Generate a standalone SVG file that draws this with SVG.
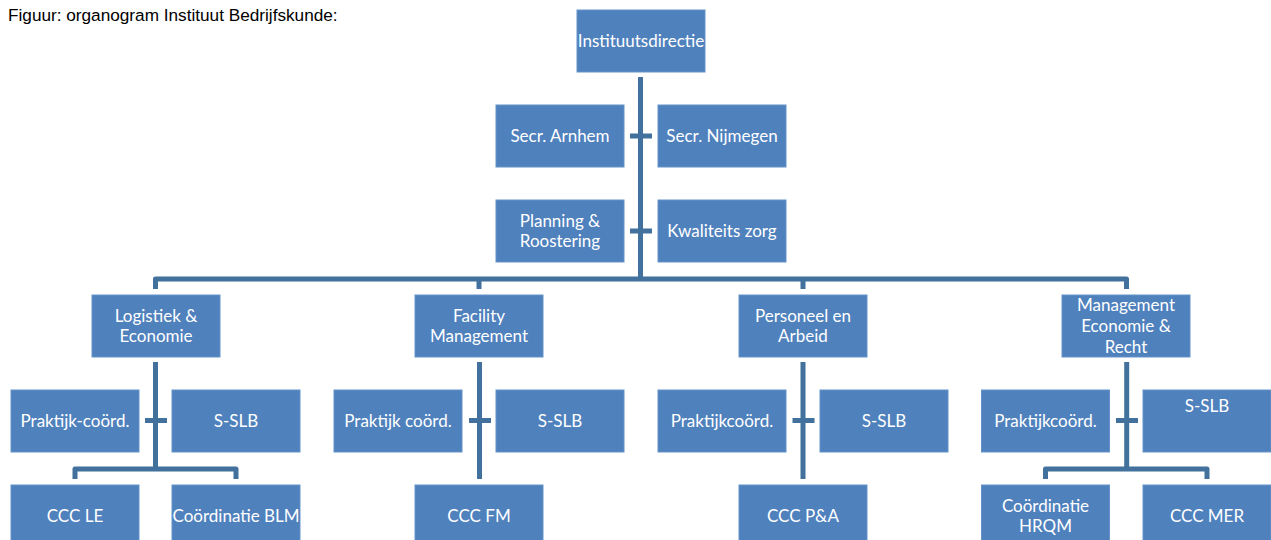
<svg xmlns="http://www.w3.org/2000/svg" width="1271" height="540" viewBox="0 0 1271 540">
<style>
.box{fill:#4F81BD;stroke:#6593C9;stroke-width:1}
.t{font-family:Lato,"Open Sans","Liberation Sans",sans-serif;font-size:17px;fill:#FFFFFF;text-anchor:middle}
.title{font-family:"Liberation Sans",Arial,sans-serif;font-size:17.2px;fill:#000000}
.c{fill:none;stroke:#41719C;stroke-width:5;stroke-linejoin:round}
</style>
<rect width="1271" height="540" fill="#FFFFFF"/>
<text class="title" x="8" y="21">Figuur: organogram Instituut Bedrijfskunde:</text>
<g id="connectors">
<path class="c" d="M640.5 77 V279"/>
<path class="c" d="M630 136 H652"/>
<path class="c" d="M630 231 H652"/>
<path class="c" d="M155.5 289 V279 H1126.5 V289"/>
<path class="c" d="M479 279 V289"/>
<path class="c" d="M803 279 V289"/>
<path class="c" d="M155.5 362 V469"/>
<path class="c" d="M145 420.5 H167"/>
<path class="c" d="M75 479 V469 H236 V479"/>
<path class="c" d="M479.5 362 V479"/>
<path class="c" d="M469 420.5 H491"/>
<path class="c" d="M803 362 V479"/>
<path class="c" d="M792.5 420.5 H814.5"/>
<path class="c" d="M1126.7 362 V469"/>
<path class="c" d="M1116 420.5 H1138"/>
<path class="c" d="M1045.5 479 V469 H1207 V479"/>
</g>
<g id="n-instituutsdirectie"><rect class="box" x="577" y="10" width="128" height="62"/><text class="t" x="641" y="47">Instituutsdirectie</text></g>
<g id="n-secr-arnhem"><rect class="box" x="496" y="105" width="128" height="62"/><text class="t" x="560" y="142">Secr. Arnhem</text></g>
<g id="n-secr-nijmegen"><rect class="box" x="658" y="105" width="128" height="62"/><text class="t" x="722" y="142">Secr. Nijmegen</text></g>
<g id="n-planning"><rect class="box" x="496" y="200" width="128" height="62"/><text class="t" x="560" y="226.7">Planning &amp;</text><text class="t" x="560" y="247.3">Roostering</text></g>
<g id="n-kwaliteit"><rect class="box" x="658" y="200" width="128" height="62"/><text class="t" x="722" y="237">Kwaliteits zorg</text></g>
<g id="n-le"><rect class="box" x="92" y="295" width="128" height="62"/><text class="t" x="156" y="321.7">Logistiek &amp;</text><text class="t" x="156" y="342.3">Economie</text></g>
<g id="n-fm"><rect class="box" x="415" y="295" width="128" height="62"/><text class="t" x="479" y="321.7">Facility</text><text class="t" x="479" y="342.3">Management</text></g>
<g id="n-pa"><rect class="box" x="739" y="295" width="128" height="62"/><text class="t" x="803" y="321.7">Personeel en</text><text class="t" x="803" y="342.3">Arbeid</text></g>
<g id="n-mer"><rect class="box" x="1062" y="295" width="128" height="62"/><text class="t" x="1126" y="311.4">Management</text><text class="t" x="1126" y="332">Economie &amp;</text><text class="t" x="1126" y="352.6">Recht</text></g>
<g id="n-le-prak"><rect class="box" x="11" y="390" width="128" height="62"/><text class="t" x="75" y="427">Praktijk-coörd.</text></g>
<g id="n-le-sslb"><rect class="box" x="172" y="390" width="128" height="62"/><text class="t" x="236" y="427">S-SLB</text></g>
<g id="n-ccc-le"><rect class="box" x="11" y="485" width="128" height="62"/><text class="t" x="75" y="522">CCC LE</text></g>
<g id="n-coord-blm"><rect class="box" x="172" y="485" width="128" height="62"/><text class="t" x="236" y="522">Coördinatie BLM</text></g>
<g id="n-fm-prak"><rect class="box" x="334" y="390" width="128" height="62"/><text class="t" x="398" y="427">Praktijk coörd.</text></g>
<g id="n-fm-sslb"><rect class="box" x="496" y="390" width="128" height="62"/><text class="t" x="560" y="427">S-SLB</text></g>
<g id="n-ccc-fm"><rect class="box" x="415" y="485" width="128" height="62"/><text class="t" x="479" y="522">CCC FM</text></g>
<g id="n-pa-prak"><rect class="box" x="658" y="390" width="128" height="62"/><text class="t" x="722" y="427">Praktijkcoörd.</text></g>
<g id="n-pa-sslb"><rect class="box" x="820" y="390" width="128" height="62"/><text class="t" x="884" y="427">S-SLB</text></g>
<g id="n-ccc-pa"><rect class="box" x="739" y="485" width="128" height="62"/><text class="t" x="803" y="522">CCC P&amp;A</text></g>
<g id="n-mer-prak"><rect class="box" x="981.5" y="390" width="128" height="62"/><text class="t" x="1045.5" y="427">Praktijkcoörd.</text></g>
<g id="n-mer-sslb"><rect class="box" x="1143" y="390" width="128" height="62"/><text class="t" x="1207" y="411.5">S-SLB</text></g>
<g id="n-coord-hrqm"><rect class="box" x="981.5" y="485" width="128" height="62"/><text class="t" x="1045.5" y="511.7">Coördinatie</text><text class="t" x="1045.5" y="532.3">HRQM</text></g>
<g id="n-ccc-mer"><rect class="box" x="1143" y="485" width="128" height="62"/><text class="t" x="1207" y="522">CCC MER</text></g>
</svg>
